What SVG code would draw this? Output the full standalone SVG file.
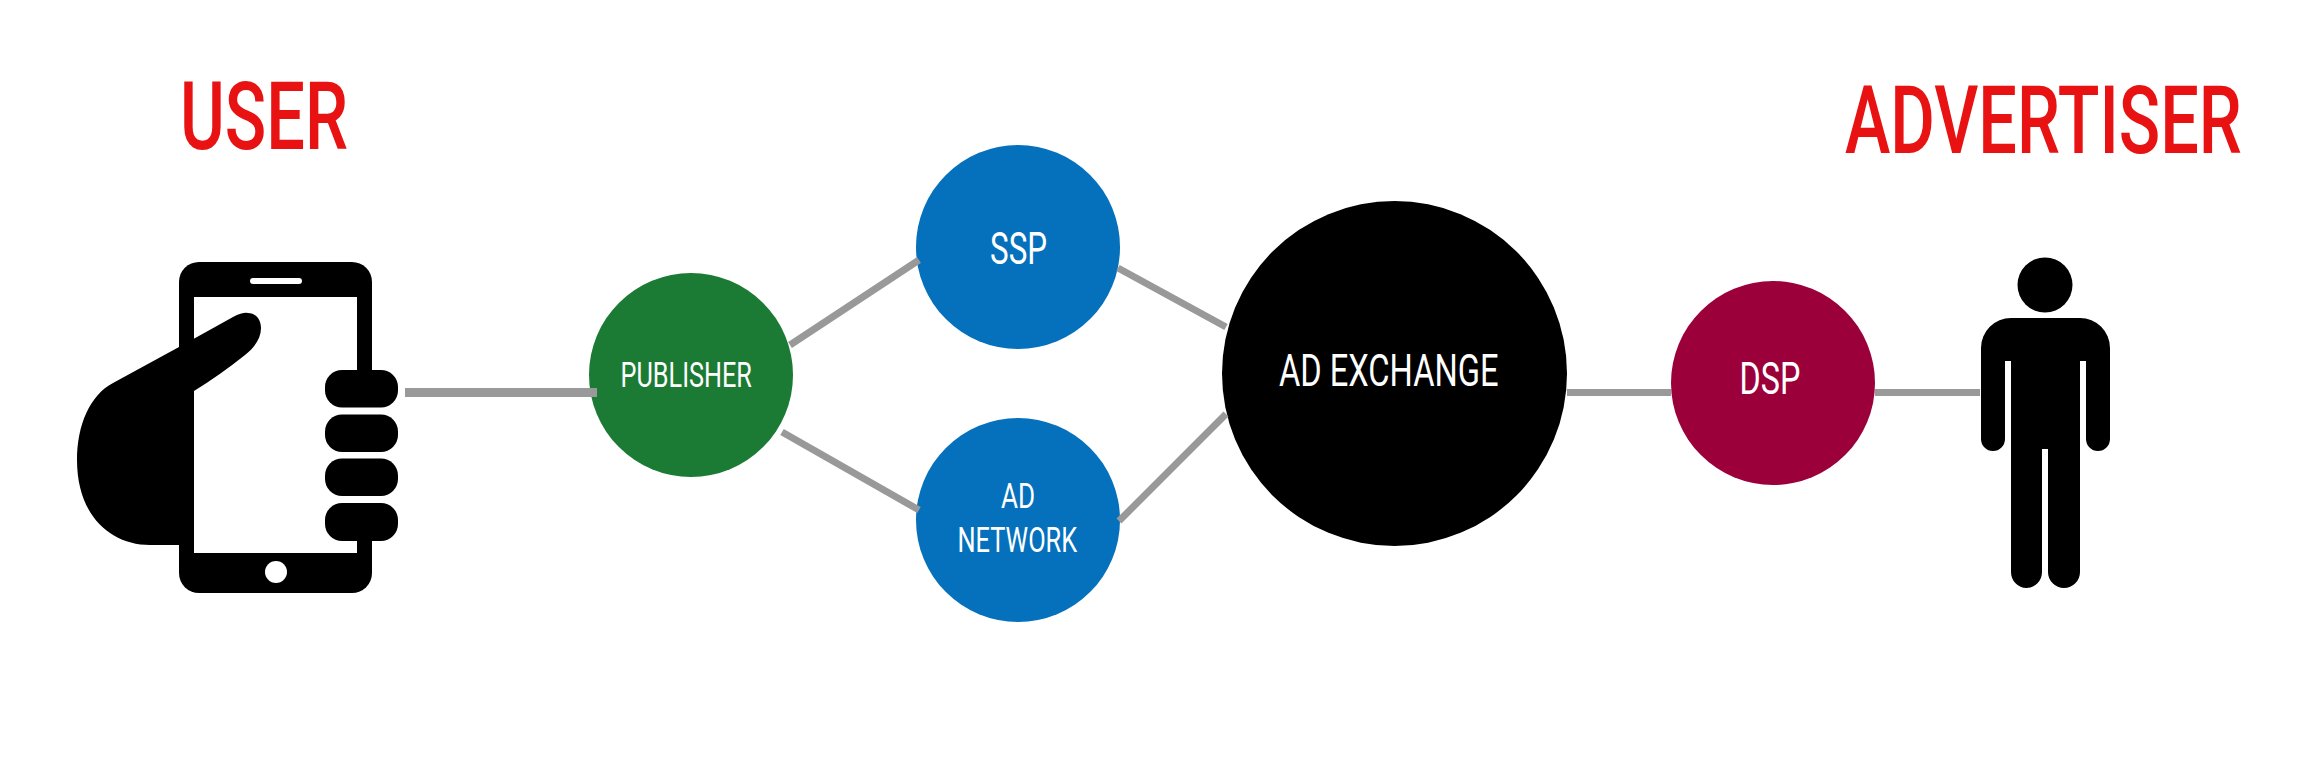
<svg xmlns="http://www.w3.org/2000/svg" width="2300" height="768" viewBox="0 0 2300 768">
<style>
text{font-family:"Roboto","Liberation Sans",sans-serif;font-weight:500;}
.w{fill:#fff;}
.r{fill:#e81212;font-size:95px;}
.s{font-size:35px;font-weight:400;}
.m{font-size:45px;font-weight:400;}
.c{stroke:#999;fill:none;}
.k{fill:#000;}
</style>
<rect width="2300" height="768" fill="#fff"/>
<g id="label-user"><text class="r" transform="translate(180,149) scale(.62,1)" textLength="271" lengthAdjust="spacingAndGlyphs">USER</text></g>
<g id="label-advertiser"><text class="r" transform="translate(1845,153) scale(.62,1)" textLength="640" lengthAdjust="spacingAndGlyphs">ADVERTISER</text></g>
<g id="phone-user">
<path class="k" d="M199 262H352A20 20 0 0 1 372 282V573A20 20 0 0 1 352 593H199A20 20 0 0 1 179 573V282A20 20 0 0 1 199 262Z"/>
<rect class="w" x="194" y="297" width="163" height="256"/>
<rect class="w" x="355" y="372" width="20" height="167"/>
<rect class="w" x="250" y="278" width="52" height="6" rx="3"/>
<circle class="w" cx="276" cy="572" r="11"/>
<path class="k" d="M179 347L233 317Q243 312 248 313C256 313 261 320 261 328C261 338 255 347 245 355Q220 375 194 391V545H150C110 545 77 515 77 460C77 425 90 395 113 383Z"/>
<rect class="k" x="325" y="370" width="73" height="37.500" rx="17"/>
<rect class="k" x="325" y="414.500" width="73" height="37.500" rx="17"/>
<rect class="k" x="325" y="458.500" width="73" height="37.500" rx="17"/>
<rect class="k" x="325" y="503" width="73" height="38" rx="17"/>
</g>
<g id="publisher"><circle cx="691" cy="375" r="102" fill="#1b7a33"/><text class="w s" transform="translate(620.500,387) scale(.62,1)" textLength="212" lengthAdjust="spacingAndGlyphs">PUBLISHER</text></g>
<g id="ssp"><circle cx="1018" cy="247" r="102" fill="#0570bb"/><text class="w m" transform="translate(990,264) scale(.62,1)" textLength="92" lengthAdjust="spacingAndGlyphs">SSP</text></g>
<g id="ad-network"><circle cx="1018" cy="520" r="102" fill="#0570bb"/><text class="w s" transform="translate(1001,508) scale(.62,1)" textLength="55" lengthAdjust="spacingAndGlyphs">AD</text><text class="w s" transform="translate(957.500,552) scale(.62,1)" textLength="193" lengthAdjust="spacingAndGlyphs">NETWORK</text></g>
<g id="ad-exchange"><circle cx="1394.500" cy="373.500" r="172.500" fill="#000"/><text class="w m" transform="translate(1279,386) scale(.62,1)" textLength="354" lengthAdjust="spacingAndGlyphs">AD EXCHANGE</text></g>
<g id="dsp"><circle cx="1773" cy="383" r="102" fill="#9b003a"/><text class="w m" transform="translate(1739.500,394) scale(.62,1)" textLength="98" lengthAdjust="spacingAndGlyphs">DSP</text></g>
<g id="advertiser-person">
<circle class="k" cx="2045" cy="285" r="27.500"/>
<path class="k" d="M2011 318H2080A30 30 0 0 1 2110 348V439A12 12 0 0 1 2086 439V361H2080V572A16 16 0 0 1 2048 572V449H2042V572A15.500 16 0 0 1 2011 572V361H2005V439A12 12 0 0 1 1981 439V348A30 30 0 0 1 2011 318Z"/>
</g>
<g id="connectors" class="c">
<line x1="405" y1="392.500" x2="597" y2="392.500" stroke-width="9"/>
<line x1="790" y1="345" x2="919" y2="260" stroke-width="7"/>
<line x1="782" y1="432" x2="919" y2="510" stroke-width="7"/>
<line x1="1118" y1="268" x2="1226" y2="327" stroke-width="7"/>
<line x1="1119" y1="521" x2="1226" y2="414" stroke-width="7"/>
<line x1="1567" y1="392.500" x2="1671" y2="392.500" stroke-width="7"/>
<line x1="1875" y1="392.500" x2="1980" y2="392.500" stroke-width="7"/>
</g>
</svg>
